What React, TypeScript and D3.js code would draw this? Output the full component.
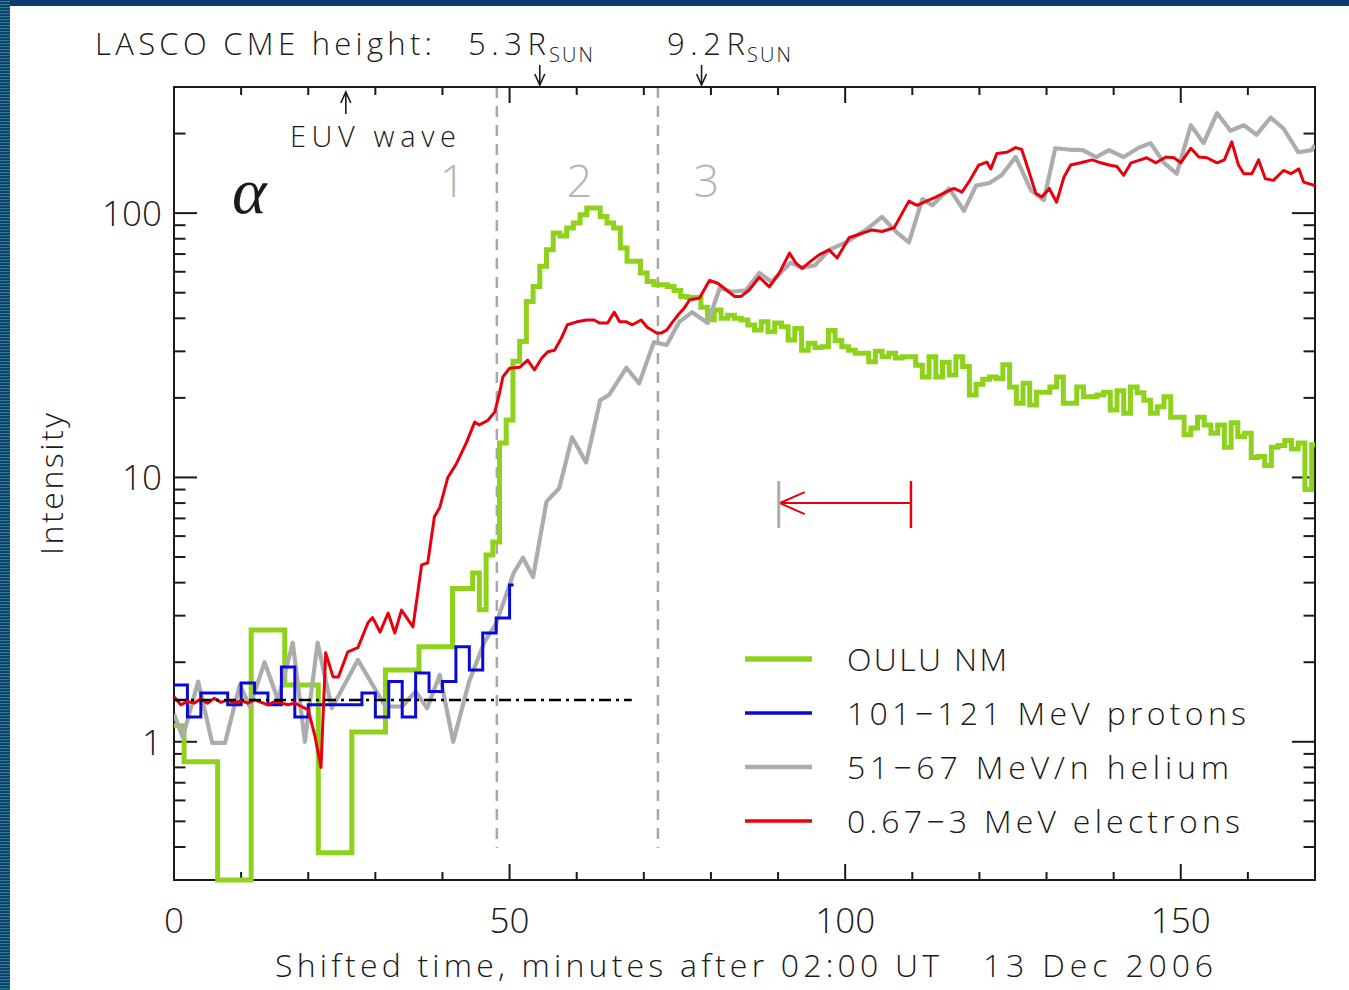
import React from "react";
import * as d3 from "d3";

// ---- Oulu neutron monitor (step histogram) ----
// 5-minute bins: bin start time [min] and intensity
const nmCoarseStart = [0, 1.5, 6.5, 11.5, 16.5, 21.5, 26.5, 31.5, 36.5];
const nmCoarseValue = [1.15, 0.84, 0.3, 2.65, 1.64, 0.38, 1.09, 1.87, 2.29];
// 1-minute bins centred on whole minutes, first bin at minute 42
const nmFineFirstMinute = 42;
const nmFineValue = [
  3.8, 3.8, 3.8, 4.35, 3.16, 5.09, 5.7, 13.5, 16.5, 27.5,
  32.7, 46.3, 52.8, 62.9, 72.7, 84.1, 82, 87.8, 91.7, 98.6,
  104.5, 104.5, 97.1, 91.7, 87.8, 73.8, 65.7, 65.7, 59.3, 55.1,
  53.6, 53.6, 52.8, 51, 48.4, 48, 48, 44, 39.5, 43,
  40, 41.1, 40, 39.4, 37.7, 36.1, 38.8, 35.6, 38.4, 37.2,
  33.1, 36.6, 30.3, 32.2, 31, 31.2, 36, 33, 31.2, 30.3,
  29.5, 29.5, 27.4, 30, 28.6, 29.5, 28.3, 28.6, 28.6, 26.6,
  24, 28.6, 24, 27.3, 24.4, 28.6, 26.3, 20.5, 22.5, 23.5,
  24, 23.7, 26.7, 22, 19.1, 22.7, 18.8, 21, 21, 22,
  24, 19.1, 19.1, 22, 20.2, 20.2, 20.5, 21, 18.0, 21.3,
  17.5, 22, 20.9, 19.6, 17.5, 18.5, 20.2, 16.9, 16.9, 14.5,
  15.4, 16.9, 15.8, 14.7, 15.8, 13.0, 16.1, 14.3, 14.7, 11.9,
  12.0, 11.1, 13.0, 13.2, 13.8, 12.8, 13.5, 9.0, 13.3,
];

// ---- 101-121 MeV protons, 2-minute bins ----
const protonBinStart = [0, 2, 4, 6, 8, 10, 12, 14, 16, 18, 20, 22, 24, 26, 28, 30, 32, 34, 36, 38, 40, 42, 44, 46, 48, 50];
const protonValue = [1.64, 1.24, 1.53, 1.53, 1.38, 1.67, 1.53, 1.38, 1.92, 1.24, 1.38, 1.38, 1.38, 1.38, 1.53, 1.24, 1.69, 1.24, 1.82, 1.55, 1.69, 2.29, 1.87, 2.58, 2.94, 3.92];
const protonEnd = 50.6;

// ---- 51-67 MeV/n helium ----
const heliumTime = [
  0, 1.3, 3.6, 5.7, 7.6, 9.8, 11.3, 13.5, 15.5, 17.7, 19.5, 21.4, 23.5, 27.4, 31.5, 34, 36, 37.7, 39.6, 41.6,
  44, 46.3, 48, 50.6, 52, 53.5, 55.5, 57.4, 59.3, 61.4, 63.5, 64.8, 67.4, 69.3, 71.5, 73.4, 75.3, 77.2, 79.5, 81.3,
  83.2, 85.2, 87.2, 89, 91.9, 93.6, 95.5, 97.6, 100.1, 103.1, 105.5, 107.6, 109.5, 111.5, 113, 115.5, 117.7, 119.5, 121.5, 123.3,
  125.4, 127.7, 129.6, 131.3, 133.3, 135.4, 137.4, 139.3, 141.5, 143.8, 145.5, 147.5, 149.4, 151.5, 153.4, 155.4, 157.4, 159.4, 161.3, 163.4,
  165.3, 167.5, 169.5, 170,
];
const heliumValue = [
  1.27, 1.04, 1.69, 0.99, 0.99, 1.64, 1.36, 2.0, 1.44, 2.37, 1.0, 2.37, 1.34, 2.04, 1.36, 1.36, 1.55, 1.34, 1.79, 1.0,
  1.7, 2.4, 2.8, 4.35, 4.97, 4.2, 8.1, 9.1, 14.2, 11.4, 19.6, 20.5, 26, 22.7, 32.5, 31.7, 38.8, 42.2, 38.4, 52,
  50.4, 51, 59.4, 55, 65, 62, 63.5, 72.6, 77.5, 86.4, 96.7, 85, 77.5, 113, 107, 124, 102, 127, 130, 139,
  163, 122, 112, 176, 174, 173, 163, 173, 163, 177, 184, 155, 141, 215, 184, 239, 205, 215, 198, 230,
  209, 170, 173, 181,
];

// ---- 0.67-3 MeV electrons ----
const electronTime = [
  0, 1, 2, 3, 4, 5, 6, 7, 8, 9, 10, 11, 12, 13, 14, 15, 16, 17, 18, 19,
  20, 21, 21.9, 22.6, 23.7, 24.5, 25.9, 27.4, 28.9, 29.6, 30.7, 31.9, 32.9, 33.9, 35.6, 36.9, 37.8, 38.8, 39.6, 40.8,
  42.1, 43.6, 44.8, 45.5, 46.7, 47.8, 48.5, 49, 50, 51.5, 52.7, 53.7, 54.8, 55.7, 56.7, 57.7, 58.6, 60, 61.5, 62.6,
  63.4, 64.6, 65.6, 66.4, 67.4, 68.3, 69.6, 70.5, 71.9, 72.6, 73.4, 74.3, 75.3, 76, 76.8, 78.3, 79.8, 81, 82.3, 83.5,
  84.5, 85.7, 87.2, 88.7, 90.2, 91.7, 92.7, 93.6, 94.6, 96.1, 97.6, 98.8, 100.6, 102.1, 104, 105.5, 107.3, 108.5, 109.5, 110.7,
  112.1, 113.5, 115, 116.2, 117.4, 118.5, 119.9, 121.1, 121.7, 122.6, 124.1, 125.4, 126.3, 127.4, 128.4, 129.3, 130.4, 131.5, 132.6, 133.6,
  135.1, 136.8, 138.1, 139.3, 140.5, 141.5, 142.6, 144, 144.9, 146.3, 147.8, 149, 150, 151.5, 152.7, 153.9, 155.4, 156.5, 157.6, 158.6,
  159.4, 160.6, 161.6, 162.6, 163.8, 165.3, 166.4, 167.6, 168.3, 170,
];
const electronValue = [
  1.48, 1.38, 1.42, 1.4, 1.45, 1.4, 1.46, 1.41, 1.44, 1.4, 1.43, 1.4, 1.44, 1.41, 1.38, 1.42, 1.4, 1.38, 1.4, 1.36,
  1.32, 1.05, 0.8, 2.17, 1.76, 1.76, 2.19, 2.27, 2.82, 2.95, 2.6, 3.07, 2.58, 3.15, 2.72, 4.67, 4.75, 7.1, 7.7, 10,
  11.3, 13.6, 16.2, 15.8, 16.4, 17.7, 20.9, 24, 25.9, 26.1, 27.8, 25.5, 28.3, 29.9, 30.3, 33.6, 37.8, 38.8, 39.4, 39.4,
  38.4, 38.4, 42.2, 38.8, 38.8, 37.8, 39.4, 37, 35.2, 35.2, 36.1, 38.8, 41.8, 43.6, 46.9, 47.7, 55.7, 54.3, 51.2, 48.4,
  48.4, 51.2, 57.2, 52.6, 59.4, 70.6, 64.5, 61.8, 65, 69.5, 72.6, 67.6, 80.8, 83.2, 86.4, 85.2, 88, 100, 111, 107,
  111, 115, 120, 124, 120, 132, 152, 156, 147, 168, 170, 177, 174, 143, 119, 115, 124, 110, 137, 152,
  155, 159, 155, 152, 150, 139, 155, 159, 162, 155, 163, 162, 155, 176, 163, 162, 155, 159, 186, 152,
  141, 141, 159, 135, 133, 145, 141, 147, 131, 127,
];

// ---- annotations ----
const phaseBoundaries = [48.1, 72.1];
const phaseLabels = ["1", "2", "3"];
const phaseLabelTimes = [41.5, 60.4, 79.3];
const lascoTimes = [54.5, 78.6];
const lascoHeights = ["5.3", "9.2"];
const euvWaveTime = 25.6;
const preEventLevel = 1.44;
const preEventEnd = 68.2;
const delayStart = 90.1;
const delayEnd = 109.8;
const delayLevel = 8.0;

const legendLabels = ["OULU NM", "101\u2212121 MeV protons", "51\u221267 MeV/n helium", "0.67\u22123 MeV electrons"];
const xTickLabels = [0, 50, 100, 150];
const yTickLabels = [1, 10, 100];

const GREEN = "#8fd21c";
const BLUE = "#0a0ad6";
const GRAY = "#acacac";
const RED = "#e8000c";
const INK = "#1a1a1a";
const SANS = "'Open Sans', 'DejaVu Sans', sans-serif";

const W = 1349;
const H = 990;
const box = { left: 174, right: 1315, top: 87, bottom: 880 };

export default function App() {
  const x = d3.scaleLinear().domain([0, 170]).range([box.left, box.right]);
  const y = d3.scaleLog().domain([0.3, 300]).range([box.bottom, box.top]);

  const stepLine = d3
    .line<[number, number]>()
    .x((d) => x(d[0]))
    .y((d) => y(d[1]))
    .curve(d3.curveStepAfter);
  const polyLine = d3
    .line<[number, number]>()
    .x((d) => x(d[0]))
    .y((d) => y(d[1]));

  const nmPoints: [number, number][] = [
    ...nmCoarseStart.map((s, i) => [s, nmCoarseValue[i]] as [number, number]),
    ...nmFineValue.map((v, i) => [nmFineFirstMinute + i - 0.5, v] as [number, number]),
    [170, nmFineValue[nmFineValue.length - 1]],
  ];
  const protonPoints: [number, number][] = [
    ...protonBinStart.map((s, i) => [s, protonValue[i]] as [number, number]),
    [protonEnd, protonValue[protonValue.length - 1]],
  ];
  const heliumPoints = heliumTime.map((t, i) => [t, heliumValue[i]] as [number, number]);
  const electronPoints = electronTime.map((t, i) => [t, electronValue[i]] as [number, number]);

  // axis ticks
  const xTicks = d3.range(0, 171, 10).map((v) => ({ v, major: v % 50 === 0 }));
  const yTicks: { v: number; major: boolean }[] = [];
  [0.1, 1, 10, 100].forEach((dec) => {
    for (let k = 1; k <= 9; k++) {
      const v = k * dec;
      if (v > 0.3 + 1e-9 && v < 300 - 1e-9) yTicks.push({ v, major: k === 1 });
    }
  });
  const xMajorLen = 16;
  const xMinorLen = 8;
  const yMajorLen = 23;
  const yMinorLen = 11.5;

  const legendY = [659, 713, 767, 821];
  const legendColors = [GREEN, BLUE, GRAY, RED];
  const legendWidths = [5, 3, 4, 3];
  const legendTextLen = [160, 399, 382, 393];

  const downArrow = (xp: number, y1: number, y2: number, key: string) => (
    <g key={key} stroke={INK} strokeWidth={1.6} fill="none">
      <line x1={xp} y1={y1} x2={xp} y2={y2} />
      <polyline points={`${xp - 5},${y2 - 11} ${xp},${y2} ${xp + 5},${y2 - 11}`} />
    </g>
  );

  return (
    <svg
      width={W}
      height={H}
      viewBox={`0 0 ${W} ${H}`}
      style={{ position: "absolute", left: 0, top: 0, background: "#ffffff" }}
      fontFamily={SANS}
      fontWeight={300}
    >
      <defs>
        <pattern id="edgeStripes" width="10" height="3" patternUnits="userSpaceOnUse">
          <rect width="10" height="3" fill="#0b3a6e" />
          <rect y="1" width="10" height="1.2" fill="#2c8088" />
        </pattern>
        <clipPath id="plotClip">
          <rect x={box.left} y={box.top - 4} width={box.right - box.left} height={box.bottom - box.top + 8} />
        </clipPath>
      </defs>

      {/* page frame */}
      <rect x={0} y={0} width={W} height={H} fill="#ffffff" />
      <rect x={0} y={0} width={W} height={6} fill="#0b3a6e" />
      <rect x={0} y={0} width={10} height={H} fill="url(#edgeStripes)" />

      {/* phase boundaries */}
      {phaseBoundaries.map((t, i) => (
        <line
          key={`pb${i}`}
          x1={x(t)}
          x2={x(t)}
          y1={box.top}
          y2={848}
          stroke="#a8a8a8"
          strokeWidth={2.5}
          strokeDasharray="11 8"
        />
      ))}

      {/* axes box */}
      <rect
        x={box.left}
        y={box.top}
        width={box.right - box.left}
        height={box.bottom - box.top}
        fill="none"
        stroke={INK}
        strokeWidth={2}
      />
      <g stroke={INK} strokeWidth={2}>
        {xTicks.map(({ v, major }) => {
          const len = major ? xMajorLen : xMinorLen;
          return (
            <g key={`xt${v}`}>
              <line x1={x(v)} x2={x(v)} y1={box.bottom} y2={box.bottom - len} />
              <line x1={x(v)} x2={x(v)} y1={box.top} y2={box.top + len} />
            </g>
          );
        })}
        {yTicks.map(({ v, major }) => {
          const len = major ? yMajorLen : yMinorLen;
          return (
            <g key={`yt${v}`}>
              <line x1={box.left} x2={box.left + len} y1={y(v)} y2={y(v)} />
              <line x1={box.right} x2={box.right - len} y1={y(v)} y2={y(v)} />
            </g>
          );
        })}
      </g>

      {/* tick labels */}
      <g fill={INK} fontSize={35}>
        {xTickLabels.map((v) => (
          <text key={`xl${v}`} x={x(v)} y={933} textAnchor="middle">
            {v}
          </text>
        ))}
        {yTickLabels.map((v) => (
          <text key={`yl${v}`} x={162} y={y(v) + 13} textAnchor="end">
            {v}
          </text>
        ))}
      </g>

      {/* axis titles */}
      <g fill={INK} fontSize={32}>
        <text x={275} y={977} textLength={664} lengthAdjust="spacing">
          Shifted time, minutes after 02:00 UT
        </text>
        <text x={983} y={977} textLength={230} lengthAdjust="spacing">
          13 Dec 2006
        </text>
        <text transform="translate(63,484) rotate(-90)" textAnchor="middle" textLength={142} lengthAdjust="spacing">
          Intensity
        </text>
      </g>

      {/* data */}
      <g clipPath="url(#plotClip)" fill="none" strokeLinejoin="miter">
        <path d={stepLine(nmPoints) ?? ""} stroke={GREEN} strokeWidth={5} />
        <path d={polyLine(heliumPoints) ?? ""} stroke={GRAY} strokeWidth={4.2} strokeLinejoin="round" />
        <path d={stepLine(protonPoints) ?? ""} stroke={BLUE} strokeWidth={3} />
        <path d={polyLine(electronPoints) ?? ""} stroke={RED} strokeWidth={3} strokeLinejoin="round" />
      </g>

      {/* pre-event level */}
      <line
        x1={x(0)}
        x2={x(preEventEnd)}
        y1={y(preEventLevel)}
        y2={y(preEventLevel)}
        stroke="#000"
        strokeWidth={2.6}
        strokeDasharray="12 5 3 5"
      />

      {/* phase numbers */}
      <g fill="#b4b4b4" fontSize={45} textAnchor="middle">
        {phaseLabels.map((p, i) => (
          <text key={`ph${p}`} x={x(phaseLabelTimes[i])} y={197}>
            {p}
          </text>
        ))}
      </g>

      {/* panel letter */}
      <text
        x={232}
        y={213}
        fontFamily="'Liberation Serif', 'DejaVu Serif', serif"
        fontStyle="italic"
        fontWeight={400}
        fontSize={66}
        fill={INK}
      >
        α
      </text>

      {/* LASCO CME heights */}
      <g fill={INK}>
        <text x={95} y={55} fontSize={31} textLength={337} lengthAdjust="spacing">
          LASCO CME height:
        </text>
        <text x={468} y={55} fontSize={31} textLength={78} lengthAdjust="spacing">
          {lascoHeights[0]}R
        </text>
        <text x={549} y={62} fontSize={20} textLength={44} lengthAdjust="spacing">
          SUN
        </text>
        <text x={667} y={55} fontSize={31} textLength={78} lengthAdjust="spacing">
          {lascoHeights[1]}R
        </text>
        <text x={747} y={62} fontSize={20} textLength={44} lengthAdjust="spacing">
          SUN
        </text>
      </g>
      {lascoTimes.map((t, i) => downArrow(x(t), 65, 85, `la${i}`))}

      {/* EUV wave */}
      <g stroke={INK} strokeWidth={1.6} fill="none">
        <line x1={x(euvWaveTime)} x2={x(euvWaveTime)} y1={114} y2={92} />
        <polyline
          points={`${x(euvWaveTime) - 5},${103} ${x(euvWaveTime)},${92} ${x(euvWaveTime) + 5},${103}`}
        />
      </g>
      <text x={290} y={147} fontSize={29} fill={INK} textLength={166} lengthAdjust="spacing">
        EUV wave
      </text>

      {/* electron-to-helium delay marker */}
      <g strokeWidth={2} fill="none">
        <line x1={x(delayStart)} x2={x(delayEnd)} y1={y(delayLevel)} y2={y(delayLevel)} stroke={RED} />
        <polyline
          points={`${x(delayStart) + 26},${y(delayLevel) - 11} ${x(delayStart) + 1},${y(delayLevel)} ${x(delayStart) + 26},${y(delayLevel) + 11}`}
          stroke={RED}
        />
        <line x1={x(delayStart)} x2={x(delayStart)} y1={y(delayLevel) - 22} y2={y(delayLevel) + 25} stroke={GRAY} strokeWidth={3} />
        <line x1={x(delayEnd)} x2={x(delayEnd)} y1={y(delayLevel) - 22} y2={y(delayLevel) + 25} stroke={RED} strokeWidth={2.5} />
      </g>

      {/* legend */}
      {legendLabels.map((label, i) => (
        <g key={`lg${i}`}>
          <line x1={745} x2={812} y1={legendY[i]} y2={legendY[i]} stroke={legendColors[i]} strokeWidth={legendWidths[i] + 0.5} />
          <text x={847} y={legendY[i] + 12} fontSize={32} fill={INK} textLength={legendTextLen[i]} lengthAdjust="spacing">
            {label}
          </text>
        </g>
      ))}
    </svg>
  );
}
